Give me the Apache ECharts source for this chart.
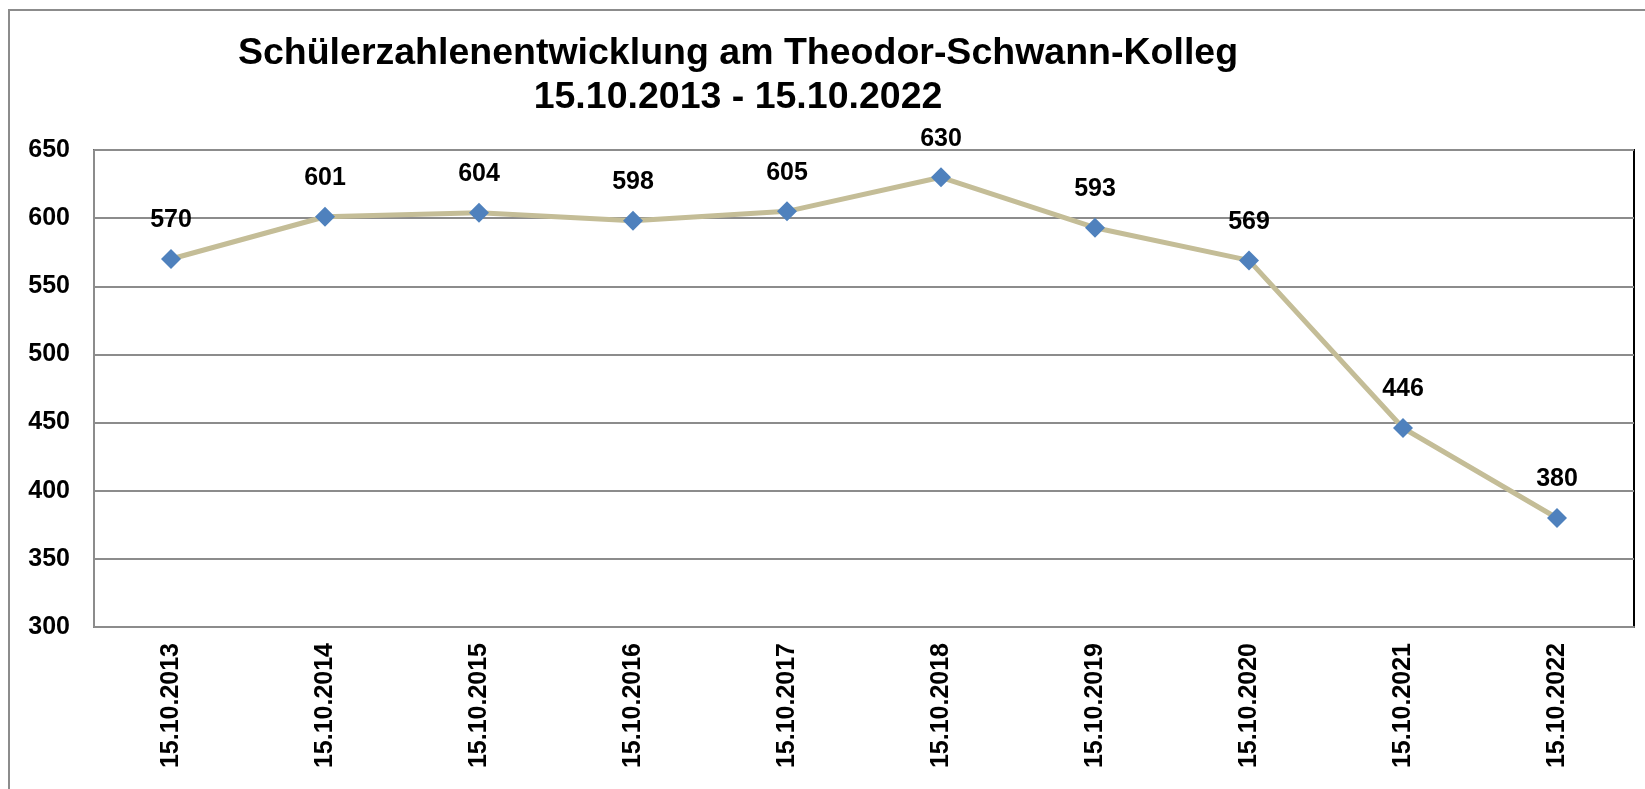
<!DOCTYPE html>
<html>
<head>
<meta charset="utf-8">
<script src="https://cdn.jsdelivr.net/npm/echarts@6/dist/echarts.min.js"></script>
<style>
  html, body { margin: 0; padding: 0; background: #fff; }
  #chart { width: 1645px; height: 789px; }
</style>
</head>
<body>
<div id="chart"></div>
<script>
// Daten
var stichtage = ['15.10.2013', '15.10.2014', '15.10.2015', '15.10.2016', '15.10.2017',
                 '15.10.2018', '15.10.2019', '15.10.2020', '15.10.2021', '15.10.2022'];
var schueler = [570, 601, 604, 598, 605, 630, 593, 569, 446, 380];
var yMin = 300, yMax = 650, yStep = 50;

var font = '"Liberation Sans", Arial, sans-serif';
var myChart = echarts.init(document.getElementById('chart'));
var option = {
    backgroundColor: '#fff',
    animation: false,
    title: {
        text: 'Schülerzahlenentwicklung am Theodor-Schwann-Kolleg\n15.10.2013 - 15.10.2022',
        left: 733,
        top: 27,
        textAlign: 'center',
        textStyle: {
            fontFamily: font,
            fontSize: 37.5,
            fontWeight: 'bold',
            color: '#000',
            lineHeight: 44
        }
    },
    graphic: [{
        type: 'rect',
        shape: { x: 9, y: 10, width: 1700, height: 820 },
        style: { fill: null, stroke: '#8c8c8c', lineWidth: 2 },
        silent: true
    }],
    grid: {
        left: 94,
        top: 150,
        right: 11,
        bottom: 162,
        show: true,
        borderColor: '#000',
        borderWidth: 2
    },
    xAxis: {
        type: 'category',
        data: stichtage,
        boundaryGap: true,
        axisLine: { lineStyle: { color: '#8c8c8c', width: 2 } },
        axisTick: { show: false },
        axisLabel: {
            rotate: 90,
            margin: 16,
            fontFamily: font,
            fontSize: 25,
            fontWeight: 'bold',
            color: '#000'
        }
    },
    yAxis: {
        type: 'value',
        min: yMin,
        max: yMax,
        interval: yStep,
        axisLine: { show: true, lineStyle: { color: '#8c8c8c', width: 2 } },
        axisTick: { show: false },
        splitLine: { lineStyle: { color: '#8c8c8c', width: 2 } },
        axisLabel: {
            margin: 24,
            fontFamily: font,
            fontSize: 25,
            fontWeight: 'bold',
            color: '#000'
        }
    },
    series: [{
        name: 'Schüler',
        type: 'line',
        data: schueler,
        symbol: 'diamond',
        symbolSize: 20,
        itemStyle: { color: '#4f81bd' },
        lineStyle: { color: '#c4bd97', width: 5 },
        label: {
            show: true,
            position: 'top',
            distance: 16,
            fontFamily: font,
            fontSize: 25,
            fontWeight: 'bold',
            color: '#000'
        }
    }]
};
myChart.setOption(option);
</script>
</body>
</html>
